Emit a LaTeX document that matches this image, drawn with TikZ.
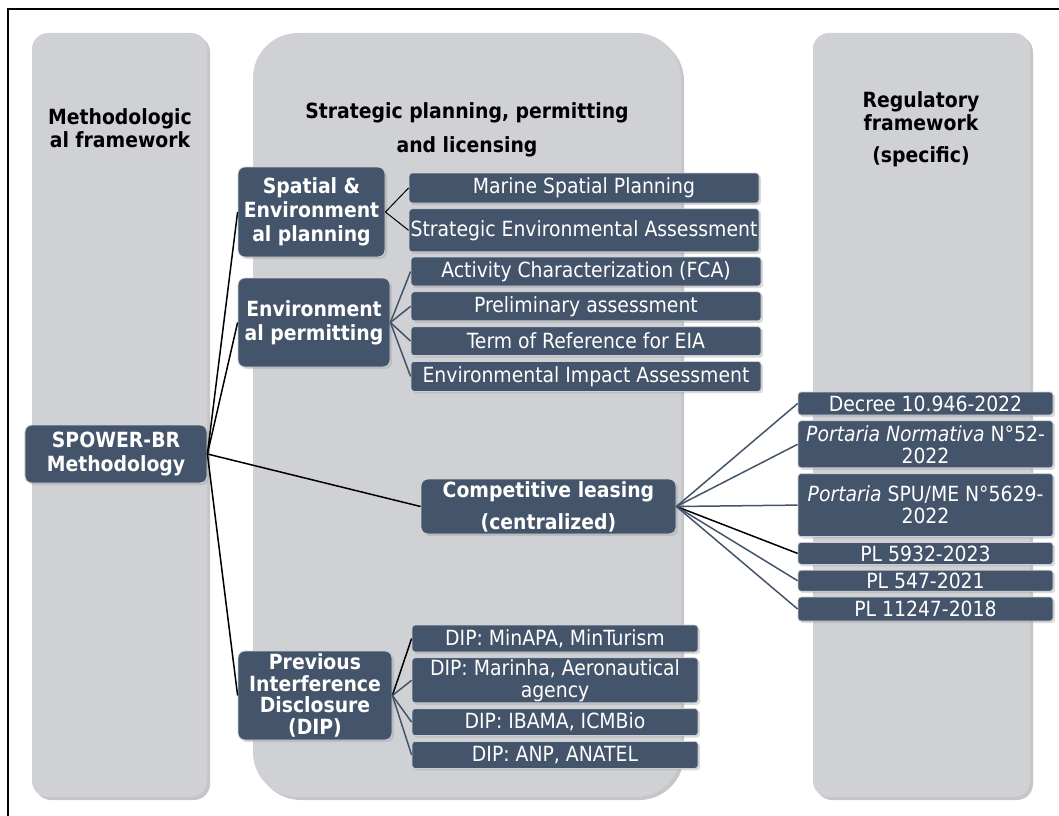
\documentclass[tikz,border=0pt]{standalone}
\usepackage{fontspec}
\setmainfont{DejaVu Sans Condensed}[
  BoldFont={DejaVu Sans Condensed Bold},
  ItalicFont={DejaVu Sans Condensed Oblique}]
\usetikzlibrary{positioning,shadows}
\definecolor{slate}{RGB}{68,84,106}
\definecolor{panelgray}{RGB}{208,209,213}
\definecolor{rimgray}{RGB}{205,209,215}
\tikzstyle{panel}=[fill=panelgray, drop shadow={shadow xshift=3bp, shadow yshift=-3bp, fill=black!50, opacity=0.45}]
\tikzstyle{title}=[align=center, font=\bfseries\fontsize{21}{23}\selectfont]
\tikzstyle{mybox}=[rectangle, fill=slate, draw=rimgray, line width=0.8bp, text=white, align=center, inner sep=0pt, drop shadow={shadow xshift=2bp, shadow yshift=-2bp, fill=black!40, opacity=0.35}]
\tikzstyle{headbox}=[mybox, rounded corners=7bp, font=\bfseries\fontsize{21}{24}\selectfont]
\tikzstyle{itembox}=[mybox, rounded corners=3bp, font=\fontsize{21}{22}\selectfont]
\tikzstyle{stepbox}=[itembox, minimum width=350bp]
\tikzstyle{lawbox}=[itembox, minimum width=255bp]
\tikzstyle{dipbox}=[itembox, minimum width=286bp]
\tikzstyle{connect}=[line width=1.5bp, black]
\tikzstyle{connect slate}=[line width=1.5bp, slate]

\begin{document}
\begin{tikzpicture}[x=1bp, y=-1bp, node distance=5bp]
\useasboundingbox (0,0) rectangle (1059,816);
\clip (0,0) rectangle (1059,816);

% frame
\draw[line width=2bp] (8,830) -- (8,9) -- (1070,9);

% columns
\path[panel, rounded corners=16bp] (32,33) rectangle (207,797);
\path[panel, rounded corners=45bp] (253,33) rectangle (681,797);
\path[panel, rounded corners=16bp] (813,33) rectangle (1030,797);

\node[title] (methtitle) at (120,128) {Methodologic\\al framework};
\node[title, font=\bfseries\fontsize{21}{34}\selectfont] (plantitle) at (467,130) {Strategic planning, permitting\\and licensing};
\node[title] (regtitle) at (921,129) {Regulatory\\framework\\[9bp](specific)};

% main steps
\node[headbox, minimum width=182bp, minimum height=58bp] (spower) at (116,454) {SPOWER-BR\\Methodology};
\node[headbox, minimum width=147bp, minimum height=90bp] (spatial) at (311.5,212) {Spatial \&\\Environment\\al planning};
\node[headbox, minimum width=152bp, minimum height=89bp] (envperm) at (314,322.5) {Environment\\al permitting};
\node[headbox, minimum width=255bp, minimum height=55bp] (compet) at (548.5,506.5) {Competitive leasing\\[8bp](centralized)};
\node[headbox, minimum width=154bp, minimum height=89bp, font=\bfseries\fontsize{21}{21.5}\selectfont] (dip) at (315,695.5) {Previous\\Interference\\Disclosure\\(DIP)};

% planning
\node[stepbox, minimum height=30bp] (msp) at (584,188) {Marine Spatial Planning};
\node[stepbox, minimum height=43bp] (sea) [below=of msp] {Strategic Environmental Assessment};

% permitting
\node[stepbox, minimum height=29bp] (fca) at (586,271.5) {Activity Characterization (FCA)};
\node[stepbox, minimum height=29bp] (prelim) [below=of fca] {Preliminary assessment};
\node[stepbox, minimum height=29bp] (tor) [below=of prelim] {Term of Reference for EIA};
\node[stepbox, minimum height=30bp] (eia) [below=of tor] {Environmental Impact Assessment};

% regulatory framework
\node[lawbox, minimum height=23bp] (decree) at (925.5,403.5) {Decree 10.946-2022};
\node[lawbox, minimum height=47bp] (pn) [below=of decree] {\textit{Portaria Normativa} N°52-\\2022};
\node[lawbox, minimum height=63bp] (spu) [below=of pn] {\textit{Portaria} SPU/ME N°5629-\\2022};
\node[lawbox, minimum height=22bp] (plA) [below=of spu] {PL 5932-2023};
\node[lawbox, minimum height=21bp] (plB) [below=of plA] {PL 547-2021};
\node[lawbox, minimum height=24bp] (plC) [below=of plB] {PL 11247-2018};

% interference disclosure
\node[dipbox, minimum height=27bp] (dipA) at (555,638.5) {DIP: MinAPA, MinTurism};
\node[dipbox, minimum height=45bp] (dipB) [below=of dipA] {DIP: Marinha, Aeronautical\\agency};
\node[dipbox, minimum height=27bp] (dipC) [below=of dipB] {DIP: IBAMA, ICMBio};
\node[dipbox, minimum height=27bp] (dipD) [below=of dipC] {DIP: ANP, ANATEL};

\begin{scope}[connect]
    \draw (spower.east) -- (spatial.west);
    \draw (spower.east) -- (envperm.west);
    \draw (spower.east) -- (compet.west);
    \draw (spower.east) -- (dip.west);

    \draw[line width=1bp] (spatial.east) -- (msp.west);
    \draw[line width=1bp] (spatial.east) -- (sea.west);

    \draw (compet.east) -- (plA.west);
    \draw (dip.east) -- (dipA.west);
\end{scope}

\begin{scope}[connect slate]
    \foreach \n in {fca,prelim,tor,eia}
        \draw (envperm.east) -- (\n.west);
    \foreach \n in {decree,pn,spu,plB,plC}
        \draw (compet.east) -- (\n.west);
    \foreach \n in {dipB,dipC,dipD}
        \draw (dip.east) -- (\n.west);
\end{scope}

\end{tikzpicture}
\end{document}
